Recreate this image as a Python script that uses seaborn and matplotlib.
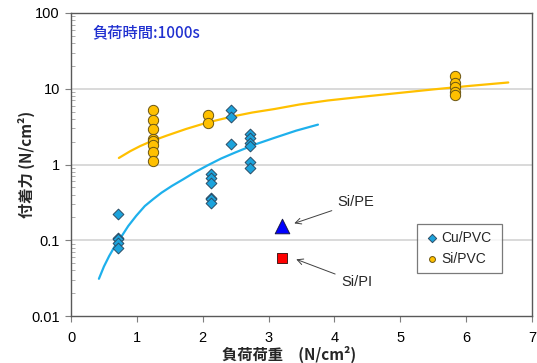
import matplotlib
matplotlib.use("Agg")
import matplotlib.pyplot as plt
import seaborn as sns
import pandas as pd
from matplotlib.ticker import LogLocator, NullFormatter, FixedLocator, FixedFormatter

sns.set_theme(style="white")
plt.rcParams['font.family'] = ['Liberation Sans', 'Noto Sans CJK JP', 'DejaVu Sans']

# ---- data ----
cu_x = [0.72, 0.72, 0.72, 0.72, 0.72,
        2.13, 2.13, 2.13, 2.13, 2.13, 2.13,
        2.43, 2.43, 2.43,
        2.72, 2.72, 2.72, 2.72, 2.72, 2.72]
cu_y = [0.22, 0.108, 0.103, 0.092, 0.080,
        0.74, 0.67, 0.57, 0.365, 0.346, 0.31,
        5.3, 4.3, 1.89,
        2.53, 2.24, 1.93, 1.74, 1.08, 0.886]

si_x = [1.24, 1.24, 1.24, 1.24, 1.24, 1.24, 1.24, 1.24,
        2.08, 2.08,
        5.83, 5.83, 5.83, 5.83, 5.83]
si_y = [5.3, 3.9, 2.9, 2.18, 2.03, 1.83, 1.45, 1.1,
        4.55, 3.54,
        14.7, 12.0, 10.6, 9.0, 8.2]

pe_x = [3.21]
pe_y = [0.155]
pi_x = [3.20]
pi_y = [0.058]

# trend curves
cu_fit_x = [0.424, 0.5, 0.58, 0.667, 0.76, 0.869, 0.99, 1.121, 1.25, 1.374,
            1.53, 1.70, 1.88, 2.08, 2.28, 2.485, 2.78, 3.09, 3.42, 3.75]
cu_fit_y = [0.031, 0.045, 0.062, 0.084, 0.11, 0.154, 0.21, 0.283, 0.35, 0.424,
            0.52, 0.635, 0.79, 0.98, 1.2, 1.43, 1.82, 2.25, 2.8, 3.36]
si_fit_x = [0.727, 0.9, 1.05, 1.22, 1.45, 1.75, 2.08, 2.45, 2.75, 3.09,
            3.47, 3.9, 4.4, 4.98, 5.5, 6.05, 6.64]
si_fit_y = [1.22, 1.5, 1.75, 2.03, 2.4, 2.95, 3.6, 4.3, 4.85, 5.4,
            6.2, 7.0, 7.8, 8.8, 9.8, 10.9, 12.1]

x_ticks = [0, 1, 2, 3, 4, 5, 6, 7]
y_ticks = [0.01, 0.1, 1, 10, 100]
y_tick_labels = ["0.01", "0.1", "1", "10", "100"]

title_text = "負荷時間:1000s"
x_label = "負荷荷重　(N/cm²)"
y_label = "付着力 (N/cm²)"

cu_df = pd.DataFrame({"x": cu_x, "y": cu_y})
si_df = pd.DataFrame({"x": si_x, "y": si_y})
cu_fit = pd.DataFrame({"x": cu_fit_x, "y": cu_fit_y})
si_fit = pd.DataFrame({"x": si_fit_x, "y": si_fit_y})

fig = plt.figure(figsize=(5.37, 3.63), dpi=100)
ax = fig.add_axes([71/537, 1-316/363, 461/537, 303/363])
ax.set_yscale("log")

# gridlines
for gv in [0.1, 1, 10]:
    ax.axhline(gv, color="#d3d3d3", lw=1.2, zorder=0)

sns.lineplot(data=cu_fit, x="x", y="y", sort=False, color="#1eb0ec", lw=1.6, ax=ax, zorder=2)
sns.lineplot(data=si_fit, x="x", y="y", sort=False, color="#ffc000", lw=1.6, ax=ax, zorder=2)

sns.scatterplot(data=cu_df, x="x", y="y", marker="D", s=30, color="#1ca3dc",
                edgecolor="#2b4d66", linewidth=0.7, ax=ax, zorder=3, label="Cu/PVC")
sns.scatterplot(data=si_df, x="x", y="y", marker="o", s=55, color="#ffc000",
                edgecolor="#6b5614", linewidth=0.7, ax=ax, zorder=3, label="Si/PVC")
sns.scatterplot(x=pe_x, y=pe_y, marker="^", s=110, color="#0000ff",
                edgecolor="#1a1a4a", linewidth=0.7, ax=ax, zorder=3)
sns.scatterplot(x=pi_x, y=pi_y, marker="s", s=55, color="#ff0000",
                edgecolor="#4a1a1a", linewidth=0.7, ax=ax, zorder=3)

ax.set_xlim(0, 7)
ax.set_ylim(0.01, 100)

ax.xaxis.set_major_locator(FixedLocator(x_ticks))
ax.set_xticklabels([str(t) for t in x_ticks])
ax.yaxis.set_major_locator(FixedLocator(y_ticks))
ax.yaxis.set_major_formatter(FixedFormatter(y_tick_labels))
ax.yaxis.set_minor_locator(LogLocator(base=10, subs=range(2, 10)))
ax.yaxis.set_minor_formatter(NullFormatter())

ax.tick_params(axis="x", which="major", direction="out", length=4, width=0.8,
               color="#7f7f7f", labelsize=10.5, pad=7, labelcolor="#000000", bottom=True)
ax.tick_params(axis="y", which="major", direction="out", length=4, width=0.8,
               color="#7f7f7f", labelsize=10.5, pad=4, labelcolor="#000000", left=True)
ax.tick_params(axis="y", which="minor", direction="in", length=3, width=0.6,
               color="#9f9f9f", left=True)

for sp in ax.spines.values():
    sp.set_color("#595959")
    sp.set_linewidth(1.0)
    sp.set_visible(True)

ax.set_xlabel(x_label, family=['Noto Sans CJK JP'], fontweight="bold", fontsize=11)
ax.set_ylabel(y_label, family=['Noto Sans CJK JP'], fontweight="bold", fontsize=11)
ax.xaxis.set_label_coords(0.473, -0.097)
ax.yaxis.set_label_coords(-0.078, 0.5)

ax.text(0.32, 55, title_text, family=['Noto Sans CJK JP'], fontsize=11,
        color="#2030d0", va="center", ha="left", fontweight="medium")

ax.annotate("Si/PE", xy=(3.39, 0.167), xytext=(4.05, 0.316),
            fontsize=10.5, va="center", ha="left",
            arrowprops=dict(arrowstyle="->", color="#404040", lw=0.7,
                            shrinkA=2, shrinkB=0))
ax.annotate("Si/PI", xy=(3.42, 0.056), xytext=(4.1, 0.028),
            fontsize=10.5, va="center", ha="left",
            arrowprops=dict(arrowstyle="->", color="#404040", lw=0.7,
                            shrinkA=2, shrinkB=0))

leg = ax.legend(loc="lower left", bbox_to_anchor=(0.75, 0.142, 0.185, 0.168), mode="expand",
                frameon=True, fancybox=False, fontsize=10, borderpad=0.5,
                handletextpad=0.1, handlelength=1.2, labelspacing=0.5, borderaxespad=0)
leg.get_frame().set_edgecolor("#595959")
leg.get_frame().set_linewidth(0.9)
for h in leg.legend_handles:
    try:
        h.set_sizes([18])
    except Exception:
        pass

fig.savefig("out.png", dpi=100)
